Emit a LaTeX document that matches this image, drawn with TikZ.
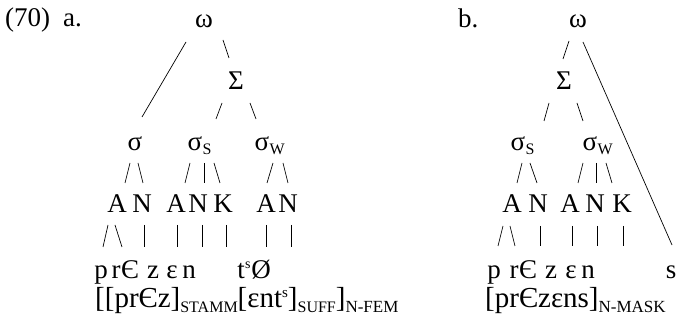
\documentclass[tikz,border=0pt]{standalone}
\usepackage{fontspec}
\setmainfont{Liberation Serif}
\usetikzlibrary{calc}
\newcommand\lsub[1]{\raisebox{-5pt}{\fontsize{16}{16}\selectfont #1}}
\newcommand\lsubb[1]{\raisebox{-5pt}{\fontsize{17}{17}\selectfont #1}}
\newcommand\lsup[1]{\raisebox{10pt}{\fontsize{15}{15}\selectfont #1}}
\begin{document}
\begin{tikzpicture}[x=1pt,y=-1pt,
  txt/.style={anchor=base,inner sep=0pt,font=\fontsize{27}{30}\selectfont},
  brk/.style={anchor=base west,inner sep=0pt,font=\fontsize{29}{32}\selectfont},
  sub/.style={anchor=base west,inner sep=0pt,font=\fontsize{16}{18}\selectfont},
  supr/.style={anchor=base west,inner sep=0pt,font=\fontsize{14}{15}\selectfont},
  stroke/.style={line width=0.7pt}]
\useasboundingbox (0,0) rectangle (678,320);
% ---------- (70) a.
\node[txt,anchor=base west] (ex) at (5,27) {(70)};
\node[txt,anchor=base west] (la) at (63,27) {a.};
\node[txt] (wA) at (204,28) {ω};
\node[txt] (SA) at (236,90) {Σ};
\node[txt] (sA) at (135,151) {σ};
\node[txt] (sSA) at (195,151) {σ};
\node[sub] (sSAi) at ($(sSA.base east)+(0,4)$) {S};
\node[txt] (sWA) at (262,151) {σ};
\node[sub] (sWAi) at ($(sWA.base east)+(0,4)$) {W};
\node[txt] (A1a) at (117,213) {A};
\node[txt] (N1a) at (142,213) {N};
\node[txt] (A2a) at (176,213) {A};
\node[txt] (N2a) at (198,213) {N};
\node[txt] (K1a) at (223,213) {K};
\node[txt] (A3a) at (266,213) {A};
\node[txt] (N3a) at (288,213) {N};
\node[txt] (pA) at (101,279) {p};
\node[txt] (rA) at (116,279) {r};
\node[txt] (eA) at (130,279) {Є};
\node[txt] (zA) at (153,279) {z};
\node[txt] (epsA) at (172,279) {ε};
\node[txt] (nA) at (189,279) {n};
\node[txt] (tA) at (241,279) {t};
\node[supr] (tsA) at ($(tA.base east)+(0,-10)$) {s};
\node[txt] (oA) at (261,279) {Ø};
\node[brk] (brA) at (95,308) {[[prЄz]\lsub{STAMM}[εnt\lsup{s}]\lsub{SUFF}]\lsubb{N-FEM}};
% connectors a
\draw[stroke] ($(wA.base)+(-18,14)$) -- ($(sA.base)+(7,-34)$);
\draw[stroke] ($(wA.base)+(19,12)$) -- ++(6,18);
\draw[stroke] ($(SA.base)+(-14,13)$) -- ++(-6,16);
\draw[stroke] ($(SA.base)+(14,13)$) -- ++(6,16);
\draw[stroke] ($(sA.base)+(-5,12)$) -- ++(-5,20);
\draw[stroke] ($(sA.base)+(3,12)$) -- ++(5,20);
\draw[stroke] ($(sSA.base)+(-5,12)$) -- ++(-5,20);
\draw[stroke] ($(sSA.base)+(9,12)$) -- ++(0,20);
\draw[stroke] ($(sSA.base)+(19,12)$) -- ++(6,20);
\draw[stroke] ($(sWA.base)+(11,12)$) -- ++(-6,20);
\draw[stroke] ($(sWA.base)+(21,12)$) -- ++(5,20);
\draw[stroke] ($(A1a.base)+(-9,12)$) -- ++(-5,22);
\draw[stroke] ($(A1a.base)+(-2,12)$) -- ++(7,22);
\draw[stroke] ($(N1a.base)+(2,12)$) -- ++(0,22);
\draw[stroke] ($(A2a.base)+(1,12)$) -- ++(0,22);
\draw[stroke] ($(N2a.base)+(4,12)$) -- ++(0,22);
\draw[stroke] ($(K1a.base)+(3,12)$) -- ++(0,22);
\draw[stroke] ($(A3a.base)+(0,12)$) -- ++(0,22);
\draw[stroke] ($(N3a.base)+(3,12)$) -- ++(0,22);
% ---------- b.
\node[txt,anchor=base west] (lb) at (458,28) {b.};
\node[txt] (wB) at (578,28) {ω};
\node[txt] (SB) at (564,90) {Σ};
\node[txt] (sSB) at (518,151) {σ};
\node[sub] (sSBi) at ($(sSB.base east)+(0,4)$) {S};
\node[txt] (sWB) at (590,151) {σ};
\node[sub] (sWBi) at ($(sWB.base east)+(0,4)$) {W};
\node[txt] (A1b) at (512,213) {A};
\node[txt] (N1b) at (538,213) {N};
\node[txt] (A2b) at (570,213) {A};
\node[txt] (N2b) at (595,213) {N};
\node[txt] (K1b) at (622,213) {K};
\node[txt] (pB) at (494,279) {p};
\node[txt] (rB) at (514,279) {r};
\node[txt] (eB) at (528,279) {Є};
\node[txt] (zB) at (551,279) {z};
\node[txt] (epsB) at (571,279) {ε};
\node[txt] (nB) at (588,279) {n};
\node[txt] (sB) at (671,279) {s};
\node[brk] (brB) at (485,308) {[prЄzεns]\lsubb{N-MASK}};
% connectors b
\draw[stroke] ($(wB.base)+(5,14)$) -- ($(sB.base)+(1,-34)$);
\draw[stroke] ($(wB.base)+(-9,13)$) -- ++(-6,18);
\draw[stroke] ($(SB.base)+(-15,13)$) -- ++(-5,18);
\draw[stroke] ($(SB.base)+(13,13)$) -- ++(6,18);
\draw[stroke] ($(sSB.base)+(4,12)$) -- ++(-5,20);
\draw[stroke] ($(sSB.base)+(12,12)$) -- ++(7,20);
\draw[stroke] ($(sWB.base)+(-7,12)$) -- ++(-5,20);
\draw[stroke] ($(sWB.base)+(6,12)$) -- ++(0,20);
\draw[stroke] ($(sWB.base)+(16,12)$) -- ++(6,20);
\draw[stroke] ($(A1b.base)+(-9,13)$) -- ++(-5,20);
\draw[stroke] ($(A1b.base)+(-2,13)$) -- ++(5,20);
\draw[stroke] ($(N1b.base)+(2,13)$) -- ++(0,20);
\draw[stroke] ($(A2b.base)+(2,13)$) -- ++(0,20);
\draw[stroke] ($(N2b.base)+(2,13)$) -- ++(0,20);
\draw[stroke] ($(K1b.base)+(1,13)$) -- ++(0,20);
\end{tikzpicture}
\end{document}
